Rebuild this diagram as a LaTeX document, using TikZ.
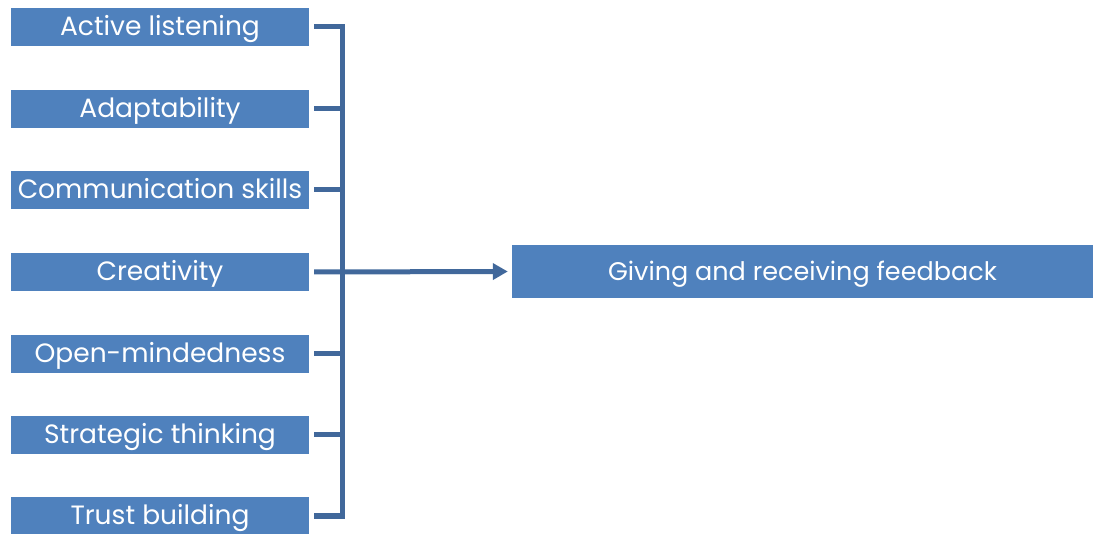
\documentclass[tikz,border=0pt]{standalone}
\usepackage{fontspec}
\setmainfont{Poppins}
\usetikzlibrary{arrows.meta}
\definecolor{boxblue}{RGB}{79,129,189}
\definecolor{linkblue}{RGB}{65,104,155}
\tikzset{
    skill/.style={fill=boxblue, text=white, minimum width=298pt, minimum height=38pt, inner sep=0pt, text height=18pt, text depth=0pt, font=\fontsize{26.5}{28}\selectfont},
    goalbox/.style={fill=boxblue, text=white, minimum width=581pt, minimum height=53pt, inner sep=0pt, text height=18pt, text depth=0pt, font=\fontsize{25.5}{28}\selectfont},
    link/.style={draw=linkblue, line width=5pt}
}

\begin{document}
\begin{tikzpicture}[x=1pt,y=-1pt]
    \useasboundingbox (0,0) rectangle (1093,534);
    \node[skill] (b1) at (160,27) {Active listening};
    \node[skill] (b2) at (160,109) {Adaptability};
    \node[skill] (b3) at (160,190) {Communication skills};
    \node[skill] (b4) at (160,272) {Creativity};
    \node[skill] (b5) at (160,354) {Open-mindedness};
    \node[skill] (b6) at (160,435) {Strategic thinking};
    \node[skill] (b7) at (160,516) {Trust building};
    \node[goalbox] (goal) at (802.5,271.5) {Giving and receiving feedback};
    \coordinate (bus) at (342,0);
    \draw[link] ([xshift=5pt]b1.east) -- (b1.east -| bus) -- (b7.east -| bus) -- ([xshift=5pt]b7.east);
    \foreach \i in {2,3,5,6}
        \draw[link] ([xshift=5pt]b\i.east) -- (b\i.east -| bus);
    \draw[link, -{Triangle[length=15pt,width=16pt]}] ([xshift=5pt]b4.east) -- ([xshift=-4pt]goal.west);
\end{tikzpicture}
\end{document}
